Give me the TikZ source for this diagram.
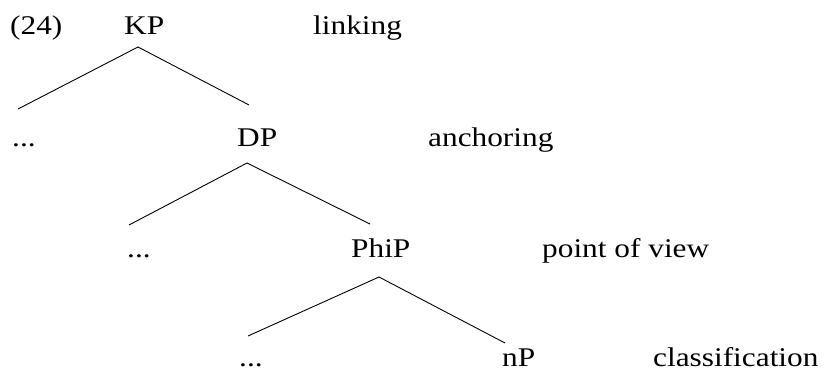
\documentclass[tikz,border=0pt]{standalone}
\usepackage{fontspec}
\setmainfont{Liberation Serif}
\newcommand{\wtxt}[1]{\scalebox{1.16}[1]{#1}}
\tikzset{
  lbl/.style={anchor=base west,inner sep=0pt,font=\fontsize{27}{32}\selectfont},
  branch/.style={line width=0.9pt}
}
\begin{document}
\begin{tikzpicture}[x=1pt,y=-1pt]
\useasboundingbox (0,0) rectangle (824,371);
% labels
\node[lbl] (num) at (10,35) {\wtxt{(24)}};
\node[lbl] (kp) at (124,35) {\wtxt{KP}};
\node[lbl] (linking) at (313,35) {\wtxt{linking}};
\node[lbl] (dotsA) at (12,147) {\wtxt{...}};
\node[lbl] (dp) at (237,147) {\wtxt{DP}};
\node[lbl] (anchoring) at (428,147) {\wtxt{anchoring}};
\node[lbl] (dotsB) at (127,258) {\wtxt{...}};
\node[lbl] (phip) at (351,258) {\wtxt{PhiP}};
\node[lbl] (pov) at (542,258) {\wtxt{point of view}};
\node[lbl] (dotsC) at (239,366) {\wtxt{...}};
\node[lbl] (np) at (502,366) {\wtxt{nP}};
\node[lbl] (classif) at (653,366) {\wtxt{classification}};
% branch points
\coordinate (kpTop) at (138,47);
\coordinate (kpL) at (18,109);
\coordinate (kpR) at (249,105);
\coordinate (dpTop) at (247,163);
\coordinate (dpL) at (129,225);
\coordinate (dpR) at (370,224);
\coordinate (phipTop) at (379,277);
\coordinate (phipL) at (248,336);
\coordinate (phipR) at (505,343);
\draw[branch] (kpL) -- (kpTop) -- (kpR);
\draw[branch] (dpL) -- (dpTop) -- (dpR);
\draw[branch] (phipL) -- (phipTop) -- (phipR);
\end{tikzpicture}
\end{document}
